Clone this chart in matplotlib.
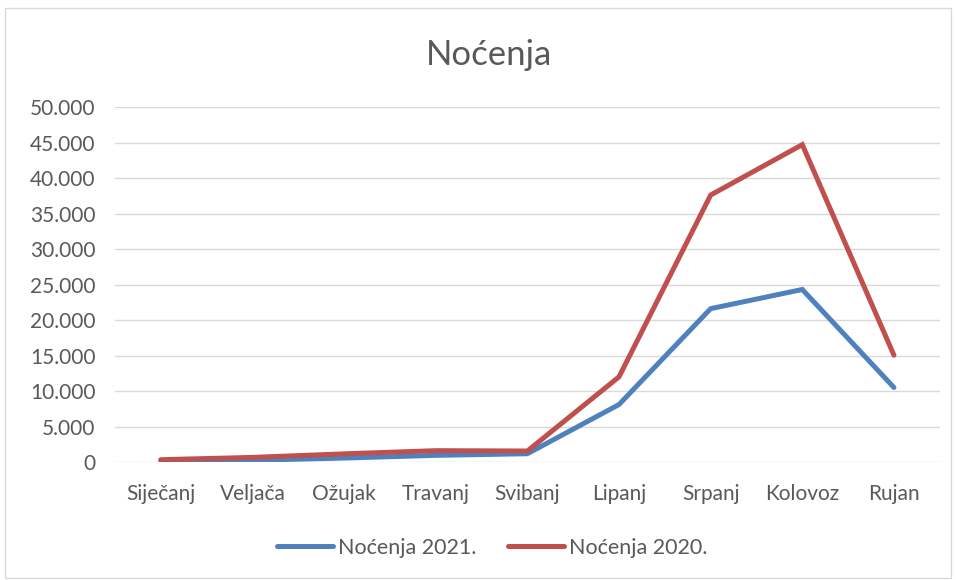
import matplotlib.pyplot as plt
from matplotlib.patches import Rectangle
from matplotlib.ticker import FuncFormatter

months = ['Siječanj', 'Veljača', 'Ožujak', 'Travanj', 'Svibanj',
          'Lipanj', 'Srpanj', 'Kolovoz', 'Rujan']
nocenja_2021 = [150, 250, 560, 940, 1170, 8100, 21600, 24300, 10500]
nocenja_2020 = [330, 650, 1150, 1600, 1550, 12000, 37600, 44700, 15050]

plt.rcParams['font.family'] = ['Lato', 'DejaVu Sans']
txt = '#595959'

fig = plt.figure(figsize=(9.56, 5.80), dpi=100)
ax = fig.add_axes([0.1203, 0.2034, 0.8627, 0.6121])

# chart frame
fig.patches.append(Rectangle((5 / 956, 2 / 580), 946 / 956, 570 / 580,
                             transform=fig.transFigure, fill=False,
                             edgecolor='#D9D9D9', linewidth=1))

x = range(len(months))
ax.plot(x, nocenja_2021, color='#4F81BD', lw=3.6, solid_capstyle='round',
        solid_joinstyle='miter', label='Noćenja 2021.')
ax.plot(x, nocenja_2020, color='#C0504D', lw=3.6, solid_capstyle='round',
        solid_joinstyle='miter', label='Noćenja 2020.')

ax.set_xlim(-0.5, len(months) - 0.5)
ax.set_ylim(0, 50000)
ax.set_yticks(range(0, 50001, 5000))
ax.yaxis.set_major_formatter(FuncFormatter(lambda v, p: f'{int(v):,}'.replace(',', '.')))
ax.set_xticks(list(x))
ax.set_xticklabels(months)
ax.grid(axis='y', color='#D9D9D9', lw=1)
ax.set_axisbelow(True)
for s in ax.spines.values():
    s.set_visible(False)
ax.tick_params(length=0, colors=txt, labelsize=15)
ax.tick_params(axis='x', pad=16)
ax.tick_params(axis='y', pad=14)

fig.text(0.512, 0.905, 'Noćenja', ha='center', va='center', fontsize=25, color=txt)

leg = fig.legend(loc='center', bbox_to_anchor=(0.515, 0.056), ncol=2, frameon=False,
                 fontsize=15.5, handlelength=2.6, handletextpad=0.2, columnspacing=1.5)
for t in leg.get_texts():
    t.set_color(txt)

fig.savefig('out.png', dpi=100)
